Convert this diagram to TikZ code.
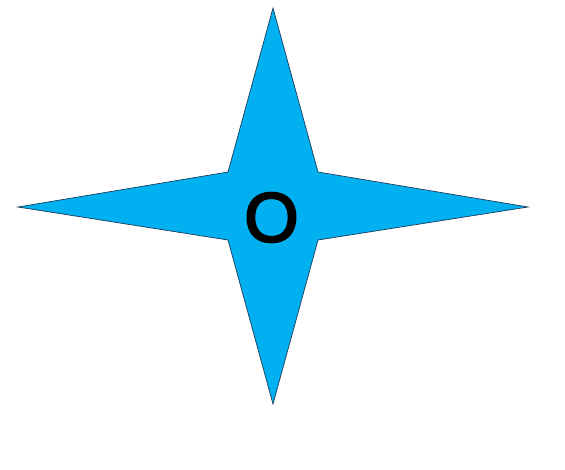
\documentclass[tikz,border=0pt]{standalone}
\usepackage{fontspec}
\setmainfont{Liberation Sans}
\newfontfamily\olabelfont[FakeBold=3]{Liberation Sans}
\definecolor{starfill}{HTML}{00B0F0}
\definecolor{starline}{HTML}{1F3A5A}
\begin{document}
\begin{tikzpicture}[x=1pt,y=-1pt,
  starshape/.style={fill=starfill,draw=starline,line width=0.7pt,line join=miter},
  starlabel/.style={font=\olabelfont\fontsize{70}{70}\selectfont,text=black,inner sep=0pt}]
\useasboundingbox (0,0) rectangle (565,469);
\coordinate (T) at (273,8);
\coordinate (B) at (273,404);
\coordinate (L) at (18,207);
\coordinate (R) at (528,207);
\coordinate (TL) at (228,172);
\coordinate (TR) at (318,172);
\coordinate (BL) at (228,240);
\coordinate (BR) at (318,240);
\draw[starshape] (T) -- (TR) -- (R) -- (BR) -- (B) -- (BL) -- (L) -- (TL) -- cycle;
\node[starlabel] (o) at (271.5,217.5) {O};
\end{tikzpicture}
\end{document}
